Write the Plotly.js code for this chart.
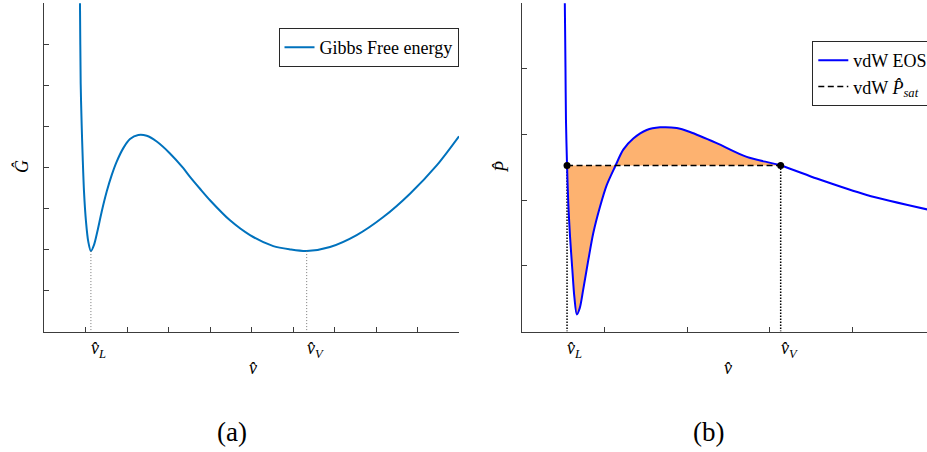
<!DOCTYPE html>
<html>
<head>
<meta charset="utf-8">
<script src="https://cdn.plot.ly/plotly-3.0.1.min.js"></script>
<style>
  html, body { margin: 0; padding: 0; background: #fff; }
  #chart { width: 927px; height: 452px; }
</style>
</head>
<body>
<div id="chart"></div>
<script>
// (a) Gibbs free energy
var gibbsV = [0.86, 0.867, 0.884, 0.908, 0.933, 0.964, 1.012, 1.067, 1.13, 1.205, 1.284, 1.39, 1.511,
  1.631, 1.752, 1.911, 2.072, 2.272, 2.475, 2.716, 3.036, 3.357, 3.518, 3.759, 4.0, 4.482, 4.964,
  5.525, 5.928, 6.33, 6.892, 7.535, 8.176, 8.819, 9.463, 10.0];
var gibbsG = [8.6, 8.0, 6.04, 5.03, 4.22, 3.41, 2.68, 2.19, 1.96, 2.11, 2.43, 2.92, 3.41,
  3.81, 4.14, 4.47, 4.69, 4.79, 4.77, 4.63, 4.34, 3.98, 3.77, 3.48, 3.20, 2.71, 2.35,
  2.08, 2.00, 1.96, 2.06, 2.35, 2.79, 3.36, 4.05, 4.76];

// (b) van der Waals isotherm
var eosV = [0.518, 0.523, 0.531, 0.537, 0.55, 0.565, 0.586, 0.614, 0.638, 0.668, 0.704, 0.744,
  0.807, 0.867, 0.948, 1.029, 1.129, 1.229, 1.35, 1.512, 1.673, 1.874, 2.035, 2.357, 2.72, 3.13,
  3.565, 4.169, 4.9];
var eosP = [5.4, 5.01, 4.03, 3.22, 2.53, 1.95, 1.45, 0.94, 0.53, 0.26, 0.36, 0.63,
  1.09, 1.50, 1.90, 2.23, 2.51, 2.77, 2.94, 3.07, 3.11, 3.10, 3.04, 2.87, 2.66, 2.53,
  2.33, 2.08, 1.86];

var vL_a = 1.13, gL = 1.96;
var vV_a = 6.33, gV = 1.96;
var vL_b = 0.55, vV_b = 3.13, pSat = 2.53;

var serif = "Liberation Serif";
var axisCol = "rgb(60,60,60)";

// part of the isotherm between the two saturation volumes (for the orange area)
var fillV = [], fillP = [];
for (var i = 0; i < eosV.length; i++) {
  if (eosV[i] >= vL_b && eosV[i] <= vV_b) {
    fillV.push(eosV[i]);
    fillP.push(eosP[i]);
  }
}

var data = [
  {
    x: gibbsV, y: gibbsG, xaxis: "x", yaxis: "y", type: "scatter", mode: "lines",
    name: "Gibbs Free energy", legend: "legend",
    line: {color: "rgb(0,114,189)", width: 2, shape: "spline", smoothing: 0.8}
  },
  {
    x: [vL_a, vL_a], y: [gL, 0], xaxis: "x", yaxis: "y", mode: "lines", showlegend: false,
    line: {color: "rgb(120,120,120)", width: 1, dash: "1px,2px"}
  },
  {
    x: [vV_a, vV_a], y: [gV, 0], xaxis: "x", yaxis: "y", mode: "lines", showlegend: false,
    line: {color: "rgb(120,120,120)", width: 1, dash: "1px,2px"}
  },
  // base for the fill
  {
    x: [vL_b, vV_b], y: [pSat, pSat], xaxis: "x2", yaxis: "y2", mode: "lines", showlegend: false,
    line: {width: 0}, hoverinfo: "skip"
  },
  {
    x: fillV, y: fillP, xaxis: "x2", yaxis: "y2", mode: "lines", showlegend: false,
    fill: "tonexty", fillcolor: "rgb(253,178,112)",
    line: {width: 0, shape: "spline", smoothing: 0.8}, hoverinfo: "skip"
  },
  {
    x: [vL_b, vL_b], y: [pSat, 0], xaxis: "x2", yaxis: "y2", mode: "lines", showlegend: false,
    line: {color: "black", width: 1.5, dash: "1.5px,1.5px"}
  },
  {
    x: [vV_b, vV_b], y: [pSat, 0], xaxis: "x2", yaxis: "y2", mode: "lines", showlegend: false,
    line: {color: "black", width: 1.5, dash: "1.5px,1.5px"}
  },
  {
    x: eosV, y: eosP, xaxis: "x2", yaxis: "y2", mode: "lines",
    name: "vdW EOS", legend: "legend2",
    line: {color: "rgb(0,0,255)", width: 2, shape: "spline", smoothing: 0.8}
  },
  {
    x: [vL_b, vV_b], y: [pSat, pSat], xaxis: "x2", yaxis: "y2", mode: "lines",
    name: "vdW <i>P̂</i><sub><i>sat</i></sub>", legend: "legend2",
    line: {color: "black", width: 1.5, dash: "6px,3.5px"}
  },
  {
    x: [vL_b, vV_b], y: [pSat, pSat], xaxis: "x2", yaxis: "y2", mode: "markers", showlegend: false,
    marker: {color: "black", size: 7}
  }
];

function axis(extra) {
  var a = {
    showline: true, linecolor: axisCol, linewidth: 1,
    ticks: "inside", ticklen: 5, tickcolor: axisCol, tickwidth: 1,
    showticklabels: false, showgrid: false, zeroline: false,
    tick0: 0, dtick: 1, fixedrange: true
  };
  for (var k in extra) a[k] = extra[k];
  return a;
}

function ann(text, x, y, xref, opts) {
  var a = {text: text, x: x, y: y, xref: xref || "paper", yref: "paper", showarrow: false,
    font: {family: serif, size: 18, color: "black"}, xanchor: "center", yanchor: "middle"};
  for (var k in opts) a[k] = opts[k];
  return a;
}

var yTick = 1 - 349 / 452;
var annotations = [
  ann("<i>v̂</i><sub><i>L</i></sub>", vL_a, yTick, "x", {xanchor: "left", xshift: -2}),
  ann("<i>v̂</i><sub><i>V</i></sub>", vV_a, yTick, "x", {xanchor: "left", xshift: -2}),
  ann("<i>v̂</i>", 252.5 / 927, 1 - 368 / 452),
  ann("<i>Ĝ</i>", 21 / 927, 1 - 167 / 452, "paper", {textangle: -90}),
  ann("(a)", 232 / 927, 1 - 432 / 452, "paper", {font: {family: serif, size: 27, color: "black"}}),
  ann("<i>v̂</i><sub><i>L</i></sub>", vL_b, yTick, "x2", {xanchor: "left", xshift: -2}),
  ann("<i>v̂</i><sub><i>V</i></sub>", vV_b, yTick, "x2", {xanchor: "left", xshift: -2}),
  ann("<i>v̂</i>", 727.7 / 927, 1 - 368 / 452),
  ann("<i>P̂</i>", 502 / 927, 1 - 167 / 452, "paper", {textangle: -90}),
  ann("(b)", 708.3 / 927, 1 - 432 / 452, "paper", {font: {family: serif, size: 27, color: "black"}})
];

var legendStyle = {
  bgcolor: "white", bordercolor: "rgb(40,40,40)", borderwidth: 1,
  font: {family: serif, size: 18, color: "black"},
  xanchor: "left", yanchor: "top", tracegroupgap: 0, itemwidth: 30
};

var layout = {
  width: 927, height: 452,
  margin: {l: 0, r: 0, t: 0, b: 0, autoexpand: false},
  paper_bgcolor: "white", plot_bgcolor: "white",
  font: {family: serif},
  showlegend: true,
  xaxis: axis({domain: [44 / 927, 459 / 927], range: [0, 10], anchor: "y"}),
  yaxis: axis({domain: [1 - 331.5 / 452, 1 - 3.3 / 452], range: [0, 8], anchor: "x"}),
  xaxis2: axis({domain: [521.5 / 927, 1], range: [0, 4.897], anchor: "y2"}),
  yaxis2: axis({domain: [1 - 331.5 / 452, 1 - 3.3 / 452], range: [0, 5], anchor: "x2"}),
  legend: Object.assign({x: 278.5 / 927, y: 1 - 28 / 452}, legendStyle),
  legend2: Object.assign({x: 812.3 / 927, y: 1 - 41 / 452}, legendStyle),
  annotations: annotations
};

Plotly.newPlot("chart", data, layout, {staticPlot: true});
</script>
</body>
</html>
